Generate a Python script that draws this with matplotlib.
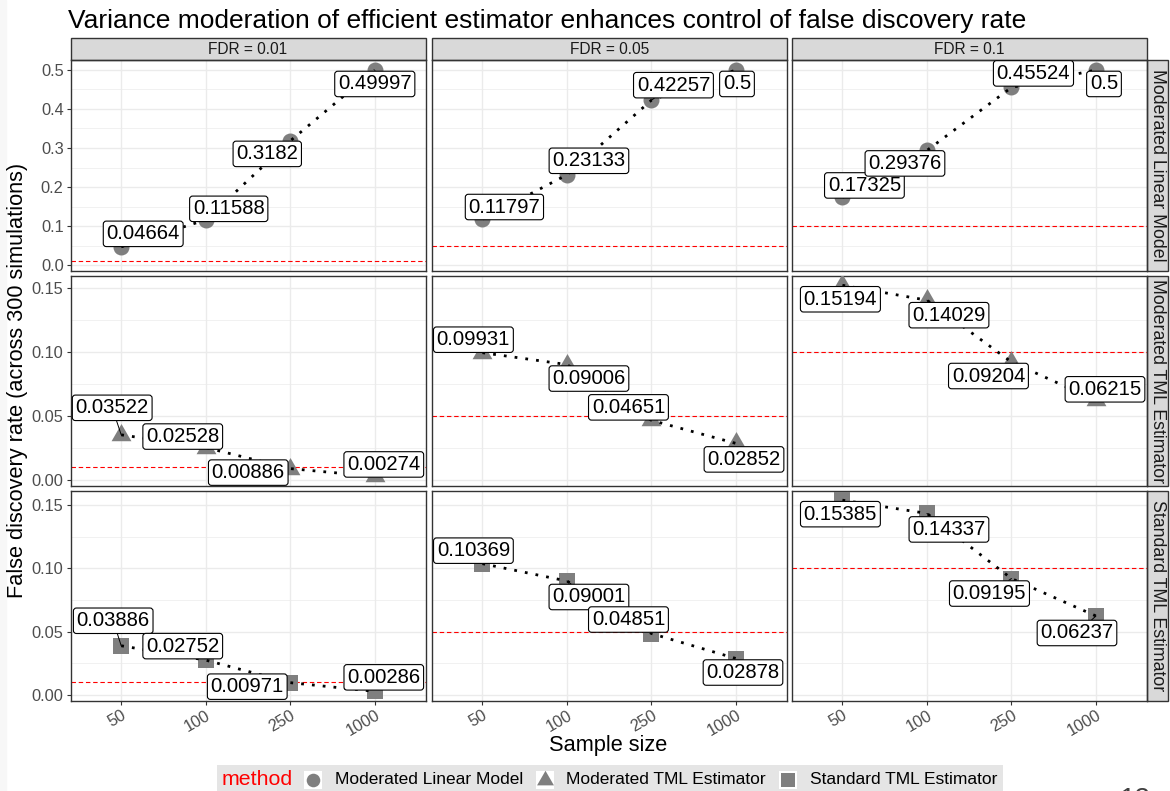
import matplotlib.pyplot as plt
from matplotlib.patches import Rectangle
from matplotlib.ticker import MultipleLocator, FormatStrFormatter

plt.rcParams['font.family'] = ['Liberation Sans', 'DejaVu Sans']

sample_sizes = ["50", "100", "250", "1000"]
fdr_levels = [0.01, 0.05, 0.1]
fdr_titles = ["FDR = 0.01", "FDR = 0.05", "FDR = 0.1"]
methods = ["Moderated Linear Model", "Moderated TML Estimator", "Standard TML Estimator"]

# observed FDR, one list per nominal FDR level, values over the sample sizes
mlm_fdr = [[0.04664, 0.11588, 0.3182, 0.49997],
           [0.11797, 0.23133, 0.42257, 0.5],
           [0.17325, 0.29376, 0.45524, 0.5]]
mtml_fdr = [[0.03522, 0.02528, 0.00886, 0.00274],
            [0.09931, 0.09006, 0.04651, 0.02852],
            [0.15194, 0.14029, 0.09204, 0.06215]]
stml_fdr = [[0.03886, 0.02752, 0.00971, 0.00286],
            [0.10369, 0.09001, 0.04851, 0.02878],
            [0.15385, 0.14337, 0.09195, 0.06237]]
all_fdr = [mlm_fdr, mtml_fdr, stml_fdr]

# where the repelled labels ended up, pixel shift from the point (right, down)
label_shift = [
    [[(22, -13), (23, -11), (-23, 13), (0, 14)],
     [(22, -12), (22, -14), (22, -15), (1, 14)],
     [(22, -12), (-22, 13), (22, -14), (8, 14)]],
    [[(-9, -27), (-23, -11), (-42, 4), (9, -12)],
     [(-9, -13), (22, 14), (-23, -13), (8, 16)],
     [(-2, 14), (22, 15), (-23, 14), (9, -11)]],
    [[(-8, -25), (-23, -14), (-43, 4), (9, -14)],
     [(-9, -13), (22, 16), (-23, -14), (7, 14)],
     [(-2, 14), (22, 16), (-22, 15), (-19, 17)]],
]

W, H = 1170, 791
fig = plt.figure(figsize=(W / 100, H / 100), dpi=100)
fig.patch.set_facecolor('white')
fig.add_artist(Rectangle((0, 0), 6 / W, 1, transform=fig.transFigure,
                         color='#f7f7f7', zorder=-10))

col_left = [70.5, 431.7, 791.7]
col_w = 355
row_top = [60.4, 275.7, 490.6]
row_h = 210.3

tri = [(0, 1), (-0.866, -0.5), (0.866, -0.5)]
marks = ['o', tri, 's']
msizes = [11.5, 16.5, 11.5]
grey = '#7F7F7F'

for r in range(3):
    data = all_fdr[r]
    lo = min(min(min(v) for v in data), min(fdr_levels))
    hi = max(max(max(v) for v in data), max(fdr_levels))
    pad = 0.05 * (hi - lo)
    for c in range(3):
        ax = fig.add_axes([col_left[c] / W, 1 - (row_top[r] + row_h) / H,
                           col_w / W, row_h / H])
        vals = data[c]
        xs = list(range(len(sample_sizes)))
        ax.set_xlim(-0.6, 3.6)
        ax.set_ylim(lo - pad, hi + pad)
        ax.set_axisbelow(True)
        if r == 0:
            ax.yaxis.set_major_locator(MultipleLocator(0.1))
            ax.yaxis.set_minor_locator(MultipleLocator(0.05))
            ax.yaxis.set_major_formatter(FormatStrFormatter('%.1f'))
        else:
            ax.yaxis.set_major_locator(MultipleLocator(0.05))
            ax.yaxis.set_minor_locator(MultipleLocator(0.025))
            ax.yaxis.set_major_formatter(FormatStrFormatter('%.2f'))
        ax.set_xticks(xs)
        ax.grid(which='major', color='#EBEBEB', lw=1.0)
        ax.grid(which='minor', axis='y', color='#EBEBEB', lw=0.5)
        ax.tick_params(which='minor', length=0)
        ax.tick_params(which='major', length=2.75, width=0.8, color='#333333',
                       labelcolor='#4D4D4D', labelsize=11.8, pad=2.2)
        if c > 0:
            ax.tick_params(left=False, labelleft=False)
        if r < 2:
            ax.tick_params(bottom=False, labelbottom=False)
        else:
            ax.set_xticklabels(sample_sizes, rotation=30, ha='right', va='top',
                               rotation_mode='anchor')
        for s in ax.spines.values():
            s.set_color('#333333')
            s.set_linewidth(1.0)

        ax.axhline(fdr_levels[c], color='red', lw=0.8, ls=(0, (4, 2.5)), zorder=2)
        ax.plot(xs, vals, ls='none', marker=marks[r], ms=msizes[r], color=grey,
                mew=0, zorder=3)
        ax.plot(xs, vals, color='black', lw=2.0, ls=(0, (1, 2.9)), zorder=4)

        for i, v in enumerate(vals):
            txt = str(v)
            dx, dy = label_shift[r][c][i]
            hw = 0.5 * (len(txt) * 10.8 + 8)
            hh = 10.5
            dist = (dx ** 2 + dy ** 2) ** 0.5
            frac = min(hw / abs(dx) if dx else 99, hh / abs(dy) if dy else 99)
            arrow = None
            if dist * (1 - frac) > 7:
                arrow = dict(arrowstyle='-', color='black', lw=0.7,
                             shrinkA=0, shrinkB=0)
            ax.annotate(txt, (i, v), xytext=(dx, -dy), textcoords='offset pixels',
                        ha='center', va='center', fontsize=14.6, zorder=5,
                        annotation_clip=False, arrowprops=arrow,
                        bbox=dict(boxstyle='round,pad=0.16,rounding_size=0.15',
                                  fc='white', ec='black', lw=0.8))

        if r == 0:
            sh = 22 / row_h
            ax.add_patch(Rectangle((0, 1), 1, sh, transform=ax.transAxes,
                                   fc='#D9D9D9', ec='#333333', lw=1.0,
                                   clip_on=False))
            ax.text(0.5, 1 + sh / 2, fdr_titles[c], transform=ax.transAxes,
                    ha='center', va='center', fontsize=11.2, color='#1A1A1A')
        if c == 2:
            sw = 21 / col_w
            ax.add_patch(Rectangle((1, 0), sw, 1, transform=ax.transAxes,
                                   fc='#D9D9D9', ec='#333333', lw=1.0,
                                   clip_on=False))
            ax.text(1 + sw / 2, 0.5, methods[r], transform=ax.transAxes,
                    ha='center', va='center', fontsize=12.8, color='#1A1A1A',
                    rotation=-90)

fig.text(68 / W, 1 - 21 / H,
         "Variance moderation of efficient estimator enhances control of false discovery rate",
         ha='left', va='center', fontsize=19)
fig.text(608 / W, 1 - 745 / H, "Sample size", ha='center', va='center', fontsize=15.7)
fig.text(18 / W, 1 - 380 / H, "False discovery rate (across 300 simulations)",
         ha='center', va='center', fontsize=15.7, rotation=90)

# legend drawn in pixel space
leg = fig.add_axes([217 / W, 1 - 796 / H, (1003 - 217) / W, 31 / H])
leg.set_xlim(217, 1003)
leg.set_ylim(796, 765)
leg.set_facecolor('#E5E5E5')
leg.set_xticks([])
leg.set_yticks([])
for s in leg.spines.values():
    s.set_visible(False)
leg.text(222, 780, "method", color='red', fontsize=15.4, ha='left', va='center')
key_x = [313, 544.5, 787.5]
for k in range(3):
    leg.add_patch(Rectangle((key_x[k] - 9, 771), 18, 18, fc='white', ec='none'))
    leg.plot([key_x[k]], [780], marker=marks[k], ms=msizes[k] * 0.85, color=grey, mew=0)
    leg.text(key_x[k] + 22, 780, methods[k], fontsize=12.5, ha='left', va='center')

fig.text(1135 / W, 1 - 800 / H, "12", ha='center', va='center', fontsize=20, color='#404040')

fig.savefig('out.png', dpi=100)
